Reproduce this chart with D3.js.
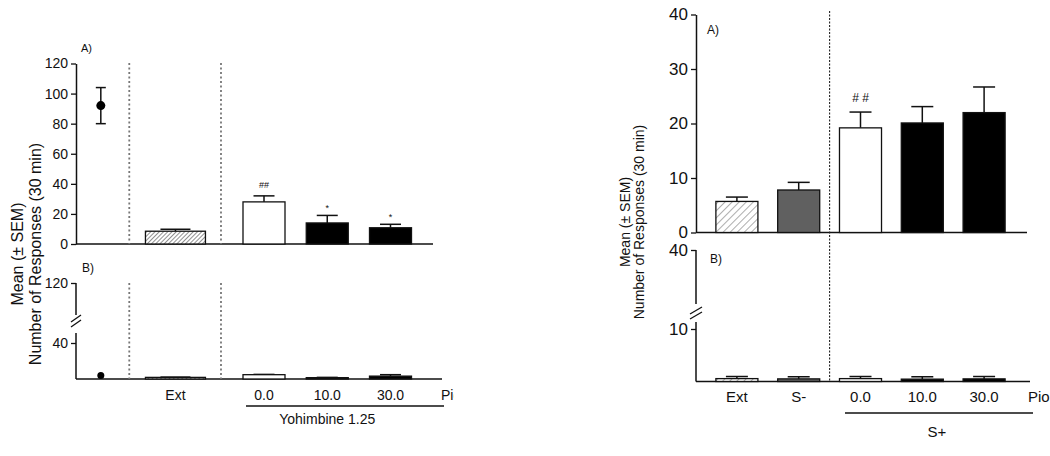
<!DOCTYPE html>
<html>
<head>
<meta charset="utf-8">
<script src="https://cdn.jsdelivr.net/npm/d3@7"></script>
<style>
body { margin: 0; background: #fff; }
text { font-family: "Liberation Sans", Arial, sans-serif; fill: #111; }
</style>
</head>
<body>
<div id="chart"></div>
<script>
// ---- data ----
const leftLabels = ["", "Ext", "0.0", "10.0", "30.0"];
const leftKind = ["point", "hatch", "white", "black", "black"];
const leftA_mean = [92, 8.5, 28, 14, 10.8];
const leftA_sem = [12, 1.3, 4, 5, 2.3];
const leftA_sig = ["", "", "##", "*", "*"];
const leftB_mean = [4, 1.8, 4.8, 1.5, 3.2];
const leftB_sem = [0, 0.3, 0.3, 0.3, 1.6];
const leftTicksA = [0, 20, 40, 60, 80, 100, 120];
const leftTicksB = [40, 120];

const rightLabels = ["Ext", "S-", "0.0", "10.0", "30.0"];
const rightKind = ["hatch2", "gray", "white", "black", "black"];
const rightA_mean = [5.7, 7.8, 19.2, 20.1, 22.0];
const rightA_sem = [0.8, 1.4, 2.9, 3.0, 4.7];
const rightA_sig = ["", "", "# #", "", ""];
const rightB_mean = [0.55, 0.5, 0.55, 0.45, 0.5];
const rightB_sem = [0.4, 0.4, 0.4, 0.45, 0.45];
const rightTicksA = [0, 10, 20, 30, 40];
const rightTicksB = [10, 40];

// ---- layout ----
const leftSlot = [-2.58, -1.4, 0, 1, 2];
const leftBarW = [0, 60, 42, 42, 42];

var svg = d3.select("#chart").append("svg")
    .attr("width", 1050)
    .attr("height", 456);

var defs = svg.append("defs");
function hatch(id, size, color, width) {
    var p = defs.append("pattern")
        .attr("id", id)
        .attr("patternUnits", "userSpaceOnUse")
        .attr("width", size).attr("height", size)
        .attr("patternTransform", "rotate(45)");
    p.append("rect").attr("width", size).attr("height", size).attr("fill", "#fff");
    p.append("line").attr("x1", 0).attr("y1", 0).attr("x2", 0).attr("y2", size)
        .attr("stroke", color).attr("stroke-width", width);
}
hatch("hatchL", 3, "#555", 1.3);
hatch("hatchR", 5, "#777", 1.2);

var fills = { hatch: "url(#hatchL)", hatch2: "url(#hatchR)", gray: "#606060", white: "#fff", black: "#000" };

// ================= LEFT FIGURE =================
var xL = d3.scaleLinear().domain([0, 1]).range([264, 327.25]);
var yLA = d3.scaleLinear().domain([0, 120]).range([244, 63.5]);
var yLB = d3.scaleLinear().domain([0, 40, 120]).range([379, 343, 283]);
var axL = 76;

function styleAxis(g, fs) {
    g.selectAll("text").style("font-size", fs + "px").attr("fill", "#111");
    g.selectAll("line").attr("stroke", "#111").attr("stroke-width", 1.3);
    g.select(".domain").attr("stroke", "#111").attr("stroke-width", 1.5);
}

// panel A axis
svg.append("g")
    .attr("transform", "translate(" + axL + ",0)")
    .call(d3.axisLeft(yLA).tickValues(leftTicksA).tickSize(5).tickSizeOuter(0).tickPadding(3))
    .call(styleAxis, 14);
svg.append("line")
    .attr("x1", axL).attr("x2", 433).attr("y1", yLA(0)).attr("y2", yLA(0))
    .attr("stroke", "#111").attr("stroke-width", 1.5);

// panel B axis with break
var gLB = svg.append("g")
    .attr("transform", "translate(" + axL + ",0)")
    .call(d3.axisLeft(yLB).tickValues(leftTicksB).tickSize(5).tickSizeOuter(0).tickPadding(3))
    .call(styleAxis, 14);
gLB.select(".domain").remove();
gLB.append("line").attr("x1", 0).attr("x2", 0).attr("y1", yLB(120)).attr("y2", 315)
    .attr("stroke", "#111").attr("stroke-width", 1.5);
gLB.append("line").attr("x1", 0).attr("x2", 0).attr("y1", 333).attr("y2", yLB(0))
    .attr("stroke", "#111").attr("stroke-width", 1.5);
[0, 5].forEach(function(o) {
    gLB.append("line").attr("x1", -5).attr("x2", 5).attr("y1", 322 + o).attr("y2", 315 + o)
        .attr("stroke", "#111").attr("stroke-width", 1.3);
});
svg.append("line")
    .attr("x1", axL).attr("x2", 442).attr("y1", yLB(0)).attr("y2", yLB(0))
    .attr("stroke", "#111").attr("stroke-width", 1.5);

// dotted separators
[-2.13, -0.68].forEach(function(s) {
    [[63, 244], [283, 379]].forEach(function(r) {
        svg.append("line")
            .attr("x1", xL(s)).attr("x2", xL(s)).attr("y1", r[0]).attr("y2", r[1])
            .attr("stroke", "#777").attr("stroke-width", 1.8)
            .attr("stroke-dasharray", "2,2.5");
    });
});

function drawLeft(y, means, sems, pointR, sig) {
    var g = svg.append("g");
    means.forEach(function(m, i) {
        var cx = xL(leftSlot[i]);
        if (leftKind[i] === "point") {
            if (sems[i] > 0) {
                g.append("line").attr("x1", cx).attr("x2", cx)
                    .attr("y1", y(m - sems[i])).attr("y2", y(m + sems[i]))
                    .attr("stroke", "#111").attr("stroke-width", 1.5);
                [m - sems[i], m + sems[i]].forEach(function(v) {
                    g.append("line").attr("x1", cx - 5).attr("x2", cx + 5)
                        .attr("y1", y(v)).attr("y2", y(v))
                        .attr("stroke", "#111").attr("stroke-width", 1.5);
                });
            }
            g.append("circle").attr("cx", cx).attr("cy", y(m)).attr("r", pointR).attr("fill", "#000");
            return;
        }
        var w = leftBarW[i];
        if (sems[i] > 0) {
            g.append("line").attr("x1", cx).attr("x2", cx)
                .attr("y1", y(m)).attr("y2", y(m + sems[i]))
                .attr("stroke", "#111").attr("stroke-width", 1.5);
            g.append("line").attr("x1", cx - w / 4).attr("x2", cx + w / 4)
                .attr("y1", y(m + sems[i])).attr("y2", y(m + sems[i]))
                .attr("stroke", "#111").attr("stroke-width", 1.5);
        }
        g.append("rect")
            .attr("x", cx - w / 2).attr("width", w)
            .attr("y", y(m)).attr("height", y(0) - y(m))
            .attr("fill", fills[leftKind[i]])
            .attr("stroke", "#111").attr("stroke-width", 1.3);
        if (sig && sig[i]) {
            g.append("text").attr("x", cx).attr("y", y(m + sems[i]) - (sig[i] === "*" ? 4 : 8))
                .attr("text-anchor", "middle").style("font-size", "9px").attr("fill", "#444")
                .text(sig[i]);
        }
    });
}
drawLeft(yLA, leftA_mean, leftA_sem, 4.5, leftA_sig);
drawLeft(yLB, leftB_mean, leftB_sem, 3.5, null);

svg.append("text").attr("x", 81).attr("y", 52).style("font-size", "11px").text("A)");
svg.append("text").attr("x", 82).attr("y", 272).style("font-size", "12px").text("B)");

// x labels
leftLabels.forEach(function(l, i) {
    if (!l) return;
    svg.append("text").attr("x", xL(leftSlot[i])).attr("y", 400)
        .attr("text-anchor", "middle").style("font-size", "14px").text(l);
});
svg.append("clipPath").attr("id", "clipPio").append("rect")
    .attr("x", 0).attr("y", 0).attr("width", 454).attr("height", 456);
svg.append("text").attr("x", 441).attr("y", 400).attr("clip-path", "url(#clipPio)")
    .style("font-size", "14px").text("Pio");
svg.append("line").attr("x1", 246).attr("x2", 444).attr("y1", 406).attr("y2", 406)
    .attr("stroke", "#111").attr("stroke-width", 1.3);
svg.append("text").attr("x", xL(1)).attr("y", 424).attr("text-anchor", "middle")
    .style("font-size", "14px").text("Yohimbine 1.25");

// y title
var ytL = svg.append("text").attr("transform", "translate(23,254) rotate(-90)")
    .attr("text-anchor", "middle").style("font-size", "16px");
ytL.append("tspan").attr("x", 0).attr("y", 0).text("Mean (\u00b1 SEM)");
ytL.append("tspan").attr("x", 0).attr("y", 18).text("Number of Responses (30 min)");

// ================= RIGHT FIGURE =================
var axR = 696;
var xR = d3.scaleBand().domain(rightLabels).range([706, 1015]).paddingInner(0.32).paddingOuter(0.16);
var yRA = d3.scaleLinear().domain([0, 40]).range([232.5, 14.5]);
var yRB = d3.scaleLinear().domain([0, 10, 40]).range([381.5, 329, 250]);

svg.append("g")
    .attr("transform", "translate(" + axR + ",0)")
    .call(d3.axisLeft(yRA).tickValues(rightTicksA).tickSize(5).tickSizeOuter(0).tickPadding(3))
    .call(styleAxis, 17);
svg.append("line")
    .attr("x1", axR).attr("x2", 1027).attr("y1", yRA(0)).attr("y2", yRA(0))
    .attr("stroke", "#111").attr("stroke-width", 1.5);

var gRB = svg.append("g")
    .attr("transform", "translate(" + axR + ",0)")
    .call(d3.axisLeft(yRB).tickValues(rightTicksB).tickSize(5).tickSizeOuter(0).tickPadding(3))
    .call(styleAxis, 17);
gRB.select(".domain").remove();
gRB.append("line").attr("x1", 0).attr("x2", 0).attr("y1", yRB(40)).attr("y2", 304)
    .attr("stroke", "#111").attr("stroke-width", 1.5);
gRB.append("line").attr("x1", 0).attr("x2", 0).attr("y1", 322).attr("y2", yRB(0))
    .attr("stroke", "#111").attr("stroke-width", 1.5);
[0, 5].forEach(function(o) {
    gRB.append("line").attr("x1", -6).attr("x2", 6).attr("y1", 314 + o).attr("y2", 307 + o)
        .attr("stroke", "#111").attr("stroke-width", 1.3);
});
svg.append("line")
    .attr("x1", axR).attr("x2", 1030).attr("y1", yRB(0)).attr("y2", yRB(0))
    .attr("stroke", "#111").attr("stroke-width", 1.5);

// dotted separator between S- and S+
var sepR = (xR("S-") + xR.bandwidth() + xR("0.0")) / 2;
svg.append("line")
    .attr("x1", sepR).attr("x2", sepR).attr("y1", 11).attr("y2", yRB(0))
    .attr("stroke", "#222").attr("stroke-width", 1.1)
    .attr("stroke-dasharray", "2,1.5");

function drawRight(y, means, sems, sig, capW) {
    var g = svg.append("g");
    var w = xR.bandwidth();
    means.forEach(function(m, i) {
        var x0 = xR(rightLabels[i]), cx = x0 + w / 2;
        g.append("line").attr("x1", cx).attr("x2", cx)
            .attr("y1", y(m)).attr("y2", y(m + sems[i]))
            .attr("stroke", "#111").attr("stroke-width", 1.5);
        g.append("line").attr("x1", cx - capW / 2).attr("x2", cx + capW / 2)
            .attr("y1", y(m + sems[i])).attr("y2", y(m + sems[i]))
            .attr("stroke", "#111").attr("stroke-width", 1.5);
        g.append("rect")
            .attr("x", x0).attr("width", w)
            .attr("y", y(m)).attr("height", y(0) - y(m))
            .attr("fill", fills[rightKind[i]])
            .attr("stroke", "#111").attr("stroke-width", 1.3);
        if (sig && sig[i]) {
            g.append("text").attr("x", cx).attr("y", y(m + sems[i]) - 10)
                .attr("text-anchor", "middle").style("font-size", "12px").attr("fill", "#333")
                .text(sig[i]);
        }
    });
}
drawRight(yRA, rightA_mean, rightA_sem, rightA_sig, 22);
drawRight(yRB, rightB_mean, rightB_sem, null, 22);

svg.append("text").attr("x", 707).attr("y", 34).style("font-size", "12px").text("A)");
svg.append("text").attr("x", 710).attr("y", 263).style("font-size", "12px").text("B)");

rightLabels.forEach(function(l) {
    svg.append("text").attr("x", xR(l) + xR.bandwidth() / 2).attr("y", 402)
        .attr("text-anchor", "middle").style("font-size", "15px").text(l);
});
svg.append("text").attr("x", 1028).attr("y", 402).style("font-size", "15px").text("Pio");
svg.append("line").attr("x1", 845).attr("x2", 1033).attr("y1", 413).attr("y2", 413)
    .attr("stroke", "#111").attr("stroke-width", 1.3);
svg.append("text").attr("x", 937).attr("y", 437).attr("text-anchor", "middle")
    .style("font-size", "15px").text("S+");

var ytR = svg.append("text").attr("transform", "translate(630,222) rotate(-90)")
    .attr("text-anchor", "middle").style("font-size", "14px");
ytR.append("tspan").attr("x", 0).attr("y", 0).text("Mean (\u00b1 SEM)");
ytR.append("tspan").attr("x", 0).attr("y", 14).text("Number of Responses (30 min)");
</script>
</body>
</html>
